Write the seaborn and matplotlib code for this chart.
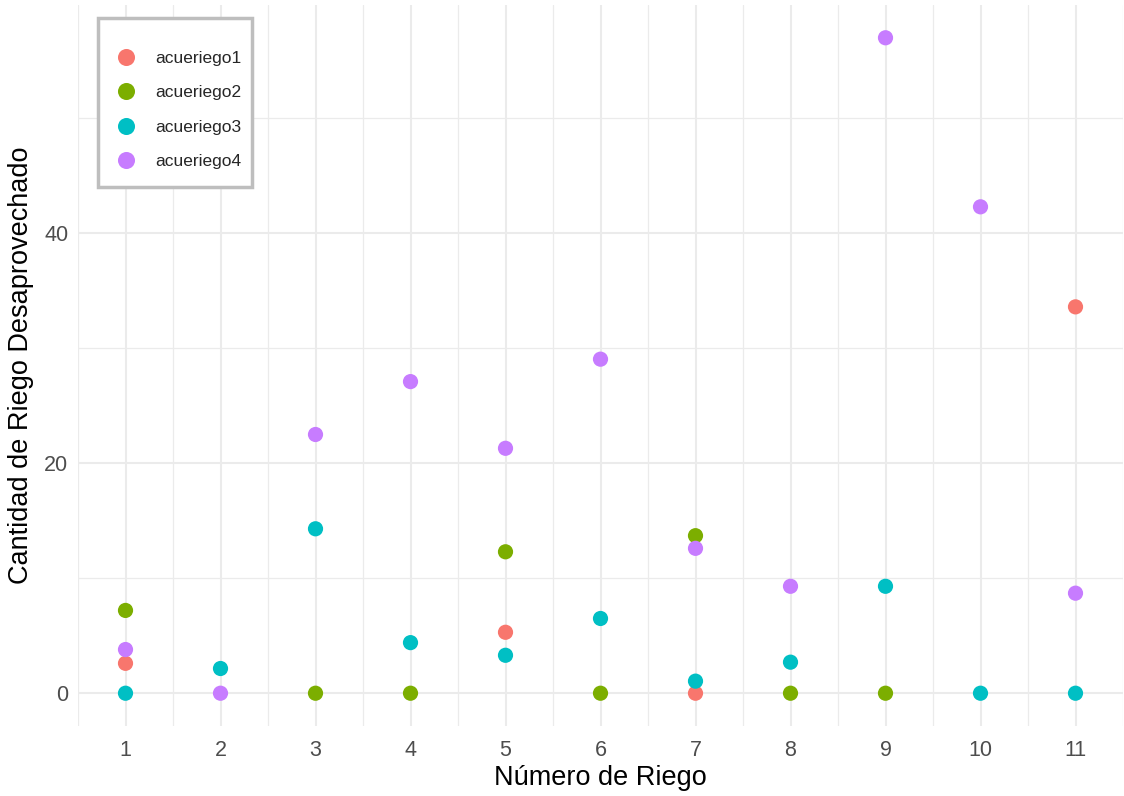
import matplotlib
matplotlib.use("Agg")
import matplotlib.pyplot as plt
import numpy as np
import pandas as pd
import seaborn as sns
from matplotlib.patches import Rectangle
from matplotlib.ticker import MultipleLocator, FixedLocator

# data (nan = no visible point)
nan = np.nan
riego = list(range(1, 12))
acueriego1 = [2.6, nan, nan, nan, 5.3, nan, 0, nan, nan, nan, 33.6]
acueriego2 = [7.2, nan, 0, 0, 12.3, 0, 13.7, 0, 0, nan, nan]
acueriego3 = [0, 2.15, 14.3, 4.4, 3.3, 6.5, 1.05, 2.7, 9.3, 0, 0]
acueriego4 = [3.8, 0, 22.5, 27.1, 21.3, 29.05, 12.6, 9.3, 57.0, 42.3, 8.7]

series = {"acueriego1": acueriego1, "acueriego2": acueriego2,
          "acueriego3": acueriego3, "acueriego4": acueriego4}
palette = {"acueriego1": "#F8766D", "acueriego2": "#7CAE00",
           "acueriego3": "#00BFC4", "acueriego4": "#C77CFF"}

df = pd.concat([pd.DataFrame({"riego": riego, "valor": v, "serie": k})
                for k, v in series.items()], ignore_index=True)

sns.set_theme(style="white")
plt.rcParams["font.family"] = ["Liberation Sans", "DejaVu Sans"]

W, H = 1124, 796
fig = plt.figure(figsize=(W / 100, H / 100), dpi=100)
ax = fig.add_axes([78 / W, 1 - 726 / H, 1045 / W, 721 / H])

sns.scatterplot(data=df, x="riego", y="valor", hue="serie", palette=palette,
                hue_order=list(series), s=120, linewidth=0, alpha=1, ax=ax,
                zorder=3)

ax.set_xlim(0.5, 11.5)
ax.set_ylim(-2.85, 59.85)
ax.xaxis.set_major_locator(FixedLocator(riego))
ax.xaxis.set_minor_locator(FixedLocator(np.arange(0.5, 12, 1.0)))
ax.yaxis.set_major_locator(MultipleLocator(20))
ax.yaxis.set_minor_locator(FixedLocator([10, 30, 50]))
ax.grid(which="major", color="#EBEBEB", linewidth=1.5)
ax.grid(which="minor", color="#EBEBEB", linewidth=0.9)
ax.set_axisbelow(True)
for sp in ax.spines.values():
    sp.set_visible(False)
ax.tick_params(axis="both", which="both", length=0, labelsize=15.5,
               labelcolor="#4D4D4D")
ax.tick_params(axis="x", pad=10)
ax.tick_params(axis="y", pad=7)
ax.set_xlabel("Número de Riego", fontsize=19.5, color="black", labelpad=3)
ax.set_ylabel("Cantidad de Riego Desaprovechado", fontsize=19.5,
              color="black", labelpad=7)

# legend box drawn like ggplot's legend.background
ax.add_patch(Rectangle((98 / W, 1 - 187 / H), 154 / W, 169 / H,
                       transform=fig.transFigure, facecolor="white",
                       edgecolor="#BEBEBE", linewidth=2.5, zorder=4,
                       clip_on=False))
leg = ax.legend(loc="upper left", bbox_to_anchor=(117.3 / W, 1 - 51 / H),
                bbox_transform=fig.transFigure, borderaxespad=0, borderpad=0,
                title=None, fontsize=12.5, frameon=False, labelspacing=1.1,
                handlelength=1.0, handletextpad=1.17, markerscale=1.12)
leg.set_zorder(5)

fig.savefig("out.png", dpi=100)
